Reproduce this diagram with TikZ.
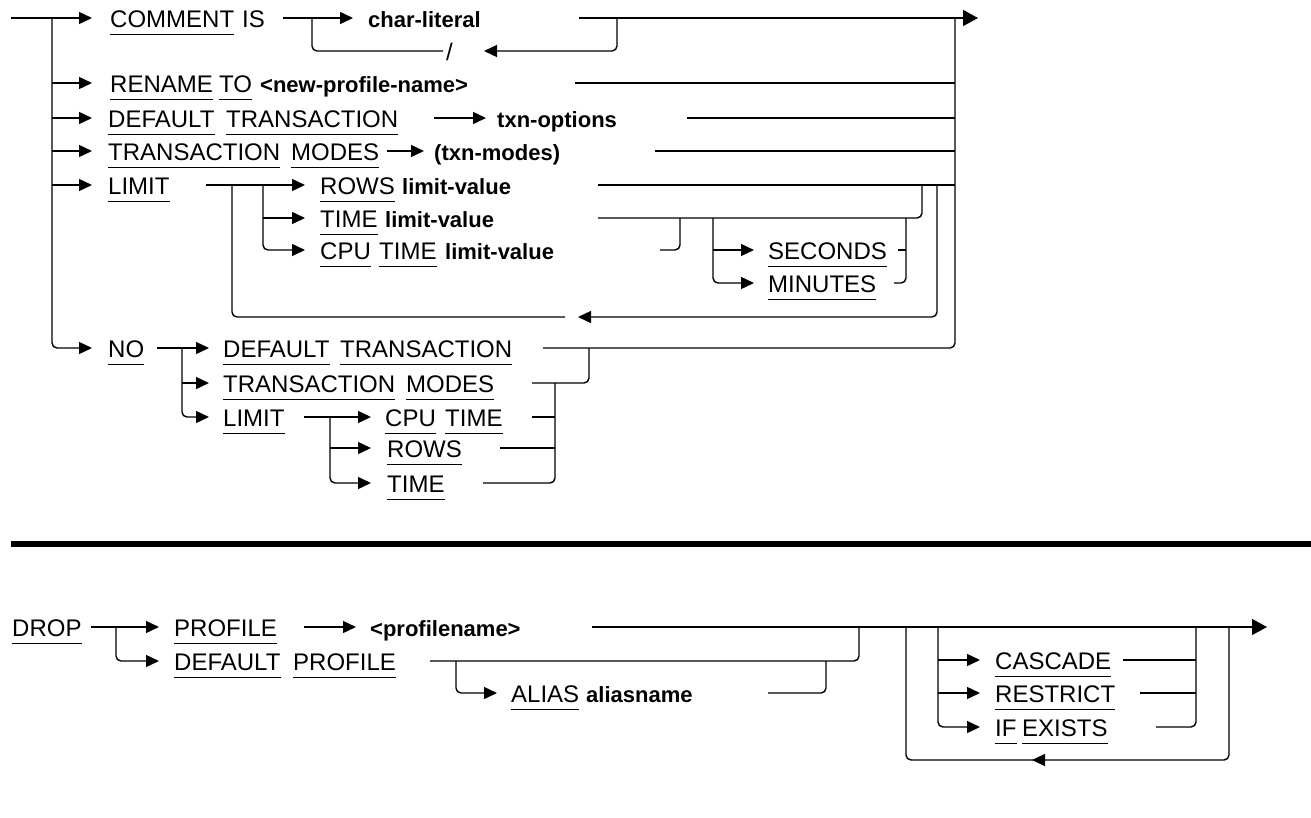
\documentclass[tikz,border=0pt]{standalone}
\usepackage{fontspec}
\usetikzlibrary{arrows.meta}
\newfontfamily\kwfam{Liberation Sans}
\newcommand\kwF{\kwfam\fontsize{24}{28}\selectfont}
\newcommand\vaF{\kwfam\bfseries\fontsize{22}{26}\selectfont}
\begin{document}
\begin{tikzpicture}[x=1pt,y=-1pt,
  ln/.style={line width=1.4pt},
  rc/.style={ln, rounded corners=5pt},
  ar/.style={ln, -{Triangle[length=13pt,width=12pt]}},
  arc/.style={ar, rounded corners=5pt},
  endar/.style={ln, -{Triangle[length=15pt,width=16pt]}},
  ul/.style={line width=1.8pt},
  kw/.style={font=\kwF, inner sep=0pt, anchor=base west,
    append after command={([yshift=-7pt]\tikzlastnode.base west) edge[ul] ([yshift=-7pt]\tikzlastnode.base east)}},
  pl/.style={font=\kwF, inner sep=0pt, anchor=base west},
  var/.style={font=\vaF, inner sep=0pt, anchor=base west}]
\useasboundingbox (0,0) rectangle (1311,817);

% ---------- top diagram ----------
\draw[ln] (11,18) -- (52,18);
\draw[ar] (52,18) -- (92,18);
\draw[arc] (52,18) -- (52,348) -- (92,348);
\foreach \yy in {83,118,151,185} \draw[ar] (52,\yy) -- (92,\yy);

% row 1
\node[kw] (comment) at (110,27.5) {COMMENT};
\node[pl] (is) at (242,27.5) {IS};
\draw[ar] (283,18) -- (353,18);
\draw[rc] (312,18) -- (312,51) -- (443,51);
\node[var] (charlit) at (368,27.5) {char-literal};
\node[pl] (slash) at (446,60.5) {/};
\draw[arc] (617,18) -- (617,51) -- (484,51);
\draw[endar] (579,18) -- (978,18);
\draw[rc] (543,348) -- (955,348) -- (955,18);

% row 2
\node[kw] (rename) at (110,92.5) {RENAME};
\node[kw] (to) at (219,92.5) {TO};
\node[var] (newname) at (260,92.5) {<new-profile-name>};
\draw[ln] (575,83) -- (955,83);

% row 3
\node[kw] (default1) at (108,127.5) {DEFAULT};
\node[kw] (trans1) at (226,127.5) {TRANSACTION};
\draw[ar] (434,118) -- (486,118);
\node[var] (txnopt) at (497,127.5) {txn-options};
\draw[ln] (687,118) -- (955,118);

% row 4
\node[kw] (trans2) at (108,160.5) {TRANSACTION};
\node[kw] (modes1) at (291,160.5) {MODES};
\draw[ar] (387,151) -- (424,151);
\node[var] (txnmodes) at (434,160.5) {(txn-modes)};
\draw[ln] (655,151) -- (955,151);

% row 5 LIMIT
\node[kw] (limit1) at (108,194.5) {LIMIT};
\draw[ar] (206,185) -- (305,185);
\draw[ar] (263,218) -- (305,218);
\draw[arc] (263,185) -- (263,250) -- (305,250);
\draw[rc] (232,185) -- (232,317) -- (565,317);
\draw[arc] (937,185) -- (937,317) -- (578,317);
\node[kw] (rows1) at (320,194.5) {ROWS};
\node[var] (lv1) at (402,194.5) {limit-value};
\node[kw] (time1) at (320,227.5) {TIME};
\node[var] (lv2) at (385,227.5) {limit-value};
\node[kw] (cpu1) at (320,259.5) {CPU};
\node[kw] (time2) at (379,259.5) {TIME};
\node[var] (lv3) at (445,259.5) {limit-value};
\draw[ln] (598,185) -- (955,185);
\draw[rc] (598,218) -- (922,218) -- (922,185);
\draw[rc] (660,250) -- (680,250) -- (680,218);
\draw[ar] (713,250) -- (754,250);
\draw[arc] (713,218) -- (713,283) -- (754,283);
\node[kw] (seconds) at (768,259.5) {SECONDS};
\node[kw] (minutes) at (768,292.5) {MINUTES};
\draw[ln] (898,250) -- (906,250);
\draw[rc] (894,283) -- (906,283) -- (906,218);

% NO row
\node[kw] (no) at (108,357.5) {NO};
\draw[ar] (157,348) -- (209,348);
\draw[ar] (182,383) -- (209,383);
\draw[arc] (182,348) -- (182,417) -- (209,417);
\node[kw] (default2) at (223,357.5) {DEFAULT};
\node[kw] (trans3) at (340,357.5) {TRANSACTION};
\node[kw] (trans4) at (223,392.5) {TRANSACTION};
\node[kw] (modes2) at (406,392.5) {MODES};
\node[kw] (limit2) at (223,426.5) {LIMIT};
\draw[ar] (304,417) -- (371,417);
\draw[ar] (330,448) -- (371,448);
\draw[arc] (330,417) -- (330,483) -- (371,483);
\node[kw] (cpu2) at (385,426.5) {CPU};
\node[kw] (time3) at (445,426.5) {TIME};
\node[kw] (rows2) at (387,457.5) {ROWS};
\node[kw] (time4) at (387,492.5) {TIME};
\draw[rc] (532,383) -- (589,383) -- (589,348);
\draw[ln] (532,417) -- (555,417);
\draw[ln] (500,448) -- (555,448);
\draw[rc] (483,483) -- (555,483) -- (555,383);

% separator bar
\draw[line width=6pt] (11,544) -- (1311,544);

% ---------- DROP diagram ----------
\node[kw] (drop) at (12,636.5) {DROP};
\draw[ar] (91,627) -- (159,627);
\draw[arc] (116,627) -- (116,661) -- (159,661);
\node[kw] (profile1) at (174,636.5) {PROFILE};
\draw[ar] (304,627) -- (356,627);
\node[var] (pname) at (370,636.5) {<profilename>};
\draw[endar] (592,627) -- (1267,627);
\node[kw] (default3) at (174,670.5) {DEFAULT};
\node[kw] (profile2) at (293,670.5) {PROFILE};
\draw[rc] (430,661) -- (859,661) -- (859,627);
\draw[arc] (456,661) -- (456,693) -- (497,693);
\node[kw] (alias) at (511,702.5) {ALIAS};
\node[var] (aname) at (586,702.5) {aliasname};
\draw[rc] (768,693) -- (826,693) -- (826,661);
\draw[rc] (906,627) -- (906,760) -- (1034,760);
\draw[arc] (1229,627) -- (1229,760) -- (1032,760);
\draw[ar] (938,660) -- (980,660);
\draw[ar] (938,693) -- (980,693);
\draw[arc] (938,627) -- (938,727) -- (980,727);
\node[kw] (cascade) at (995,669.5) {CASCADE};
\node[kw] (restrict) at (995,702.5) {RESTRICT};
\node[kw] (if) at (995,736.5) {IF};
\node[kw] (exists) at (1022,736.5) {EXISTS};
\draw[ln] (1123,660) -- (1196,660);
\draw[ln] (1140,693) -- (1196,693);
\draw[rc] (1156,727) -- (1196,727) -- (1196,627);
\end{tikzpicture}
\end{document}
